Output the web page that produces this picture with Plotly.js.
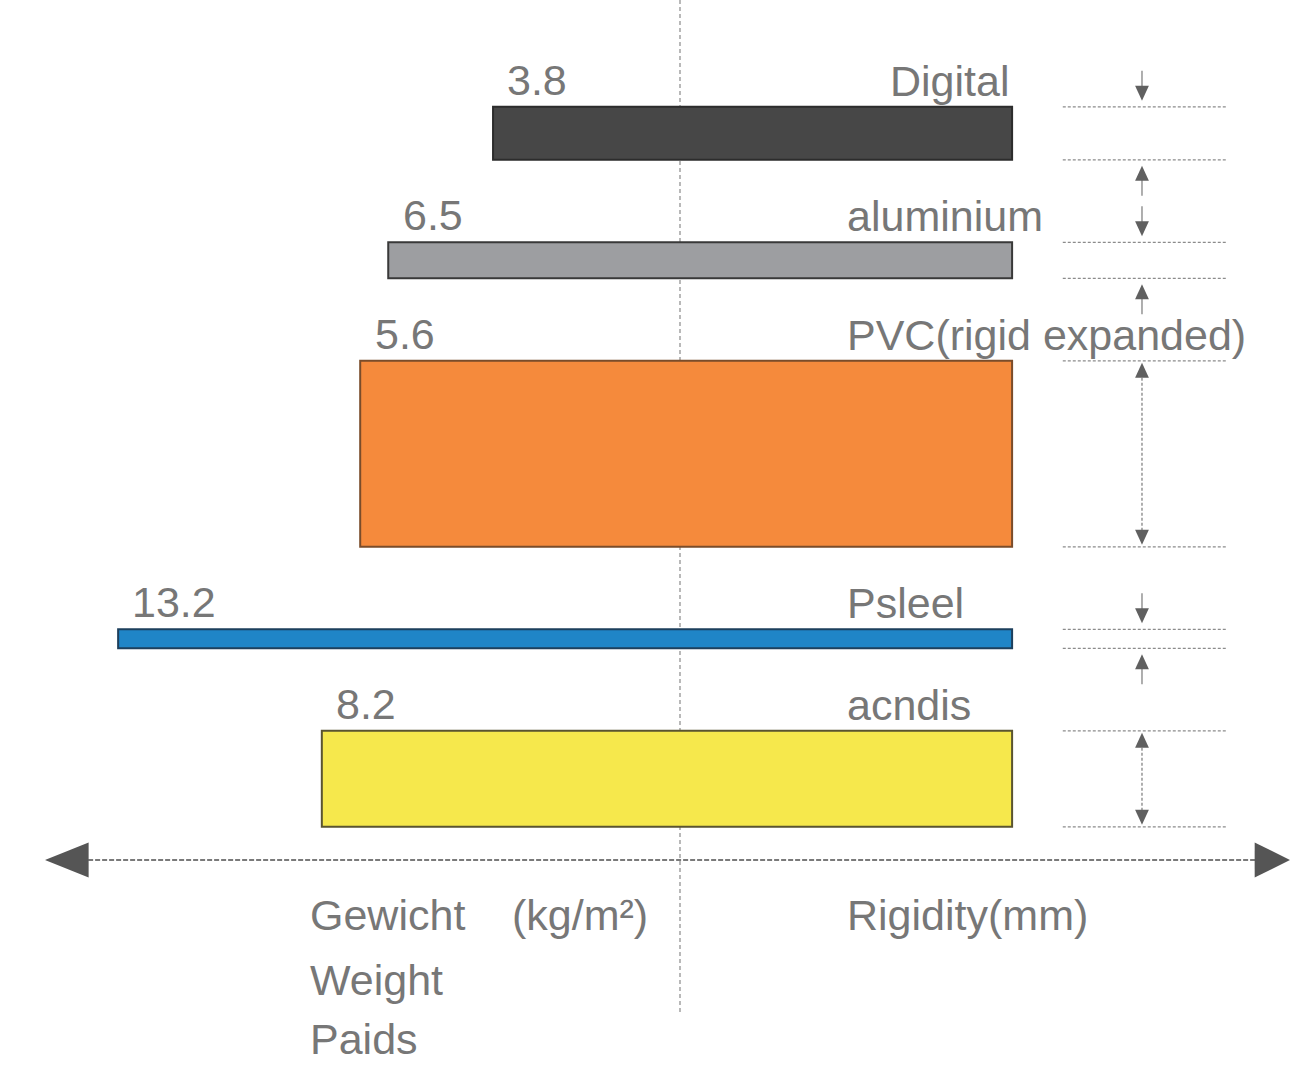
<!DOCTYPE html>
<html><head><meta charset="utf-8">
<script src="https://cdn.plot.ly/plotly-3.0.1.min.js"></script>
<style>html,body{margin:0;padding:0;background:#ffffff}#chart{width:1292px;height:1066px}</style>
</head><body><div id="chart"></div>
<script>
// ---------------- data ----------------
const materials = ['Digital', 'aluminium', 'PVC(rigid expanded)', 'Psleel', 'acndis'];
const weightLabels = ['3.8', '6.5', '5.6', '13.2', '8.2'];
const weightReach = [3.8, 5.93, 6.5, 11.42, 7.28];     // bar reach left of the centre line
const rigidityReach = [6.75, 6.75, 6.75, 6.75, 6.75];  // bar reach right of the centre line
const rigidity = [5.3, 3.6, 18.6, 1.9, 9.6];           // bar thickness
const leftAxisTitle = ['Gewicht', '(kg/m\u00b2)'];
const leftAxisExtra = ['Weight', 'Paids'];
const rightAxisTitle = 'Rigidity(mm)';

// ---------------- style / layout ----------------
const fills = ['#474747', '#9d9ea1', '#f58a3c', '#1f85c7', '#f6e84c'];
const edges = ['#2c2c2c', '#393939', '#7a4c2a', '#1d3f5c', '#5a5430'];
const nameAnchor = ['right', 'left', 'left', 'left', 'left'];
const FIRST_TOP = 10.68, GAP = 8.25;
const NAME_X = 3.35;
const TXT = {family: 'Liberation Sans, Arial, sans-serif', size: 43, color: '#777777'};

const tops = [];
let t = FIRST_TOP;
rigidity.forEach((r, i) => { tops.push(t); t += r + GAP; });
const bots = tops.map((v, i) => v + rigidity[i]);
const centers = tops.map((v, i) => v + rigidity[i] / 2);

const traces = [{
  type: 'bar', orientation: 'h',
  y: centers,
  x: weightReach.map((w, i) => w + rigidityReach[i]),
  base: weightReach.map(w => -w),
  width: rigidity,
  marker: {color: fills, line: {color: edges, width: 2}},
  hoverinfo: 'skip'
}];

const shapes = [];
const annotations = [];

// centre dashed line
shapes.push({type: 'line', xref: 'x', yref: 'y', x0: 0, x1: 0, y0: 0, y1: 101.5,
  line: {color: '#8a8a8a', width: 1.2, dash: '4px,3px'}, layer: 'below'});

// horizontal double arrow axis
const AX_Y = 86.0;
shapes.push({type: 'line', xref: 'x', yref: 'y', x0: -12.03, x1: 11.69, y0: AX_Y, y1: AX_Y,
  line: {color: '#7a7a7a', width: 2, dash: '5px,2px'}});
shapes.push({type: 'path', xref: 'x', yref: 'y',
  path: `M -12.907,${AX_Y} L -12.02,${AX_Y - 1.75} L -12.02,${AX_Y + 1.75} Z`,
  fillcolor: '#555555', line: {width: 0}});
shapes.push({type: 'path', xref: 'x', yref: 'y',
  path: `M 12.398,${AX_Y} L 11.68,${AX_Y - 1.75} L 11.68,${AX_Y + 1.75} Z`,
  fillcolor: '#555555', line: {width: 0}});

// right-hand dimension markers
const DX0 = 7.78, DX1 = 11.12, AXX = 9.39, HW = 0.14, HH = 1.5;
function head(xc, tipY, dir) { // dir 1 = pointing down, -1 = pointing up
  const b = tipY - dir * HH;
  return {type: 'path', xref: 'x', yref: 'y',
    path: `M ${xc - HW},${b} L ${xc + HW},${b} L ${xc},${tipY} Z`,
    fillcolor: '#606060', line: {width: 0}};
}
function vline(y0, y1, dash) {
  return {type: 'line', xref: 'x', yref: 'y', x0: AXX, x1: AXX, y0: y0, y1: y1,
    line: {color: '#7a7a7a', width: 1.2, dash: dash}};
}
rigidity.forEach((r, i) => {
  [tops[i], bots[i]].forEach(yy => shapes.push({type: 'line', xref: 'x', yref: 'y',
    x0: DX0, x1: DX1, y0: yy, y1: yy, line: {color: '#8c8c8c', width: 1.3, dash: '3px,2px'}}));
  if (r < 7) {
    shapes.push(vline(tops[i] - 3.6, tops[i] - 1.5, 'solid'));
    shapes.push(head(AXX, tops[i] - 0.6, 1));
    shapes.push(vline(bots[i] + 1.5, bots[i] + 3.6, 'solid'));
    shapes.push(head(AXX, bots[i] + 0.6, -1));
  } else {
    shapes.push(vline(tops[i] + 1.2, bots[i] - 1.2, '3px,2px'));
    shapes.push(head(AXX, tops[i] + 0.2, -1));
    shapes.push(head(AXX, bots[i] - 0.2, 1));
  }
});

// labels
materials.forEach((m, i) => {
  annotations.push({xref: 'x', yref: 'y', x: -weightReach[i] + 0.25, y: tops[i] - 2.7,
    text: weightLabels[i], showarrow: false, xanchor: 'left', yanchor: 'middle', font: TXT});
  annotations.push({xref: 'x', yref: 'y',
    x: nameAnchor[i] === 'right' ? rigidityReach[i] : NAME_X, y: tops[i] - 2.6,
    text: m, showarrow: false, xanchor: nameAnchor[i], yanchor: 'middle', font: TXT});
});
annotations.push({xref: 'x', yref: 'y', x: -7.56, y: 91.5, text: leftAxisTitle[0], showarrow: false, xanchor: 'left', yanchor: 'middle', font: TXT});
annotations.push({xref: 'x', yref: 'y', x: -3.455, y: 91.5, text: leftAxisTitle[1], showarrow: false, xanchor: 'left', yanchor: 'middle', font: TXT});
annotations.push({xref: 'x', yref: 'y', x: -7.56, y: 98.0, text: leftAxisExtra[0], showarrow: false, xanchor: 'left', yanchor: 'middle', font: TXT});
annotations.push({xref: 'x', yref: 'y', x: -7.56, y: 103.9, text: leftAxisExtra[1], showarrow: false, xanchor: 'left', yanchor: 'middle', font: TXT});
annotations.push({xref: 'x', yref: 'y', x: NAME_X, y: 91.5, text: rightAxisTitle, showarrow: false, xanchor: 'left', yanchor: 'middle', font: TXT});

const layout = {
  width: 1292, height: 1066,
  margin: {l: 0, r: 0, t: 0, b: 0, pad: 0},
  paper_bgcolor: '#ffffff', plot_bgcolor: '#ffffff',
  showlegend: false,
  xaxis: {range: [-13.821, 12.439], visible: false, fixedrange: true},
  yaxis: {range: [106.6, 0], visible: false, fixedrange: true},
  shapes: shapes, annotations: annotations
};
Plotly.newPlot('chart', traces, layout, {displayModeBar: false, staticPlot: true});
</script></body></html>
